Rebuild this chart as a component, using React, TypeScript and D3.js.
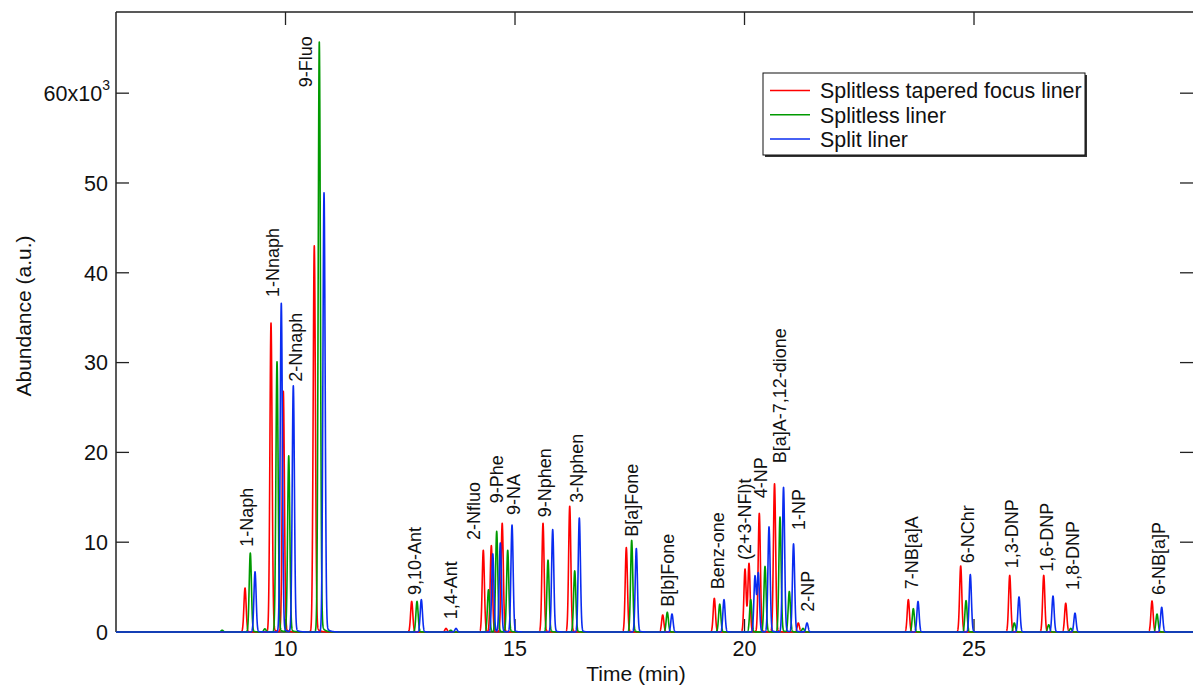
import React from 'react';
import * as d3 from 'd3';

// ---- data (retention time in min, abundance in x10^3 a.u.) ----
const seriesNames = ['Splitless tapered focus liner', 'Splitless liner', 'Split liner'];
const seriesColors = ['#ff0000', '#009a00', '#0a2cf0'];

const redTimes = [9.118, 9.684, 9.952, 10.627, 12.749, 13.497, 14.309, 14.484, 14.721, 15.61, 16.192, 17.425, 18.218, 19.342, 20.011, 20.098, 20.322, 20.654, 21.172, 23.569, 24.71, 25.778, 26.519, 26.998, 28.878];
const redHeights = [4.9, 34.4, 26.8, 43.0, 3.4, 0.4, 9.1, 9.6, 12.1, 12.1, 14.0, 9.4, 1.9, 3.75, 7.0, 7.6, 13.2, 16.5, 1.0, 3.6, 7.35, 6.3, 6.3, 3.2, 3.45];

const greenTimes = [8.62, 9.233, 9.55, 9.815, 10.07, 10.736, 12.865, 13.599, 14.423, 14.601, 14.841, 15.719, 16.301, 17.542, 18.318, 19.46, 20.135, 20.447, 20.773, 20.976, 21.275, 23.678, 24.826, 25.878, 26.627, 27.107, 28.987];
const greenHeights = [0.2, 8.8, 0.35, 30.1, 19.6, 65.7, 3.4, 0.2, 4.7, 11.2, 9.1, 8.0, 6.8, 10.2, 2.2, 3.1, 3.6, 7.3, 12.8, 4.5, 0.4, 2.6, 3.5, 1.0, 0.8, 0.4, 2.0];

const blueTimes = [9.336, 9.908, 10.17, 10.839, 12.959, 13.715, 14.516, 14.68, 14.935, 15.821, 16.401, 17.643, 18.42, 19.553, 20.229, 20.301, 20.534, 20.85, 21.068, 21.362, 23.78, 24.919, 25.98, 26.721, 27.2, 29.089];
const blueHeights = [6.7, 36.6, 27.4, 48.9, 3.6, 0.4, 8.7, 9.9, 11.9, 11.4, 12.7, 9.3, 2.0, 3.6, 6.2, 6.5, 11.7, 16.1, 9.8, 1.0, 3.4, 6.4, 3.9, 4.0, 2.1, 2.75];

const labelNames = ['1-Naph', '1-Nnaph', '2-Nnaph', '9-Fluo', '9,10-Ant', '1,4-Ant', '2-Nfluo', '9-Phe', '9-NA', '9-Nphen', '3-Nphen', 'B[a]Fone', 'B[b]Fone', 'Benz-one', '(2+3-NFl)t', '4-NP', 'B[a]A-7,12-dione', '1-NP', '2-NP', '7-NB[a]A', '6-NChr', '1,3-DNP', '1,6-DNP', '1,8-DNP', '6-NB[a]P'];
const labelTimes = [9.155, 9.721, 10.222, 10.447, 12.821, 13.606, 14.091, 14.601, 14.978, 15.654, 16.344, 17.542, 18.318, 19.407, 20.011, 20.359, 20.758, 21.172, 21.377, 23.643, 24.854, 25.821, 26.584, 27.142, 29.015];
const labelHeights = [9.5, 37.3, 27.87, 60.66, 4.12, 1.41, 10.24, 14.33, 13.03, 12.77, 14.4, 10.61, 2.82, 4.76, 8.02, 14.89, 18.79, 11.36, 2.26, 4.76, 7.65, 7.09, 6.71, 4.68, 4.12];

const xTicks = [10, 15, 20, 25];
const yTicks = [0, 10, 20, 30, 40, 50, 60];
const xDomain = [6.307, 29.771];
const yDomain = [0, 69.04];

// ---- layout ----
const W = 1193;
const H = 686;
const left = 116;
const right = 1193;
const top = 12;
const bottom = 632;
const peakSigma = 0.024;
const tailFrac = 0.025;
const tailTau = 0.06;

function peakShape(t: number, tp: number, h: number) {
  const d = (t - tp) / peakSigma;
  let v = 0;
  if (Math.abs(d) < 8) v += h * Math.exp(-0.5 * d * d);
  if (t > tp) {
    const dt = t - tp;
    const ramp = 1 - Math.exp(-0.5 * (dt / peakSigma) * (dt / peakSigma));
    v += h * tailFrac * ramp * Math.exp(-dt / tailTau);
  }
  return v;
}

function buildTrace(times: number[], heights: number[]) {
  const ts: number[] = [];
  for (let t = xDomain[0]; t <= xDomain[1]; t += 0.002) ts.push(t);
  times.forEach((t) => ts.push(t));
  ts.sort((a, b) => a - b);
  return ts.map((t) => {
    let v = 0;
    for (let i = 0; i < times.length; i++) {
      if (t - times[i] > -0.3 && t - times[i] < 1.2) v += peakShape(t, times[i], heights[i]);
    }
    return [t, v] as [number, number];
  });
}

export default function App() {
  const x = d3.scaleLinear().domain(xDomain).range([left, right]);
  const y = d3.scaleLinear().domain(yDomain).range([bottom, top]);
  const line = d3
    .line<[number, number]>()
    .x((d) => x(d[0]))
    .y((d) => y(d[1]));

  const traces = [
    buildTrace(redTimes, redHeights),
    buildTrace(greenTimes, greenHeights),
    buildTrace(blueTimes, blueHeights),
  ];

  const font = 'Arial, "Liberation Sans", Helvetica, sans-serif';
  const axisColor = '#222';
  const tickLen = 13;

  return (
    <svg
      width={W}
      height={H}
      style={{ position: 'absolute', left: 0, top: 0, background: '#fff' }}
      fontFamily={font}
    >
      <defs>
        <clipPath id="plotClip">
          <rect x={left} y={top - 2} width={right - left} height={bottom - top + 4} />
        </clipPath>
      </defs>
      <rect x={0} y={0} width={W} height={H} fill="#fff" />

      {/* ticks (inward) */}
      {xTicks.map((t) => (
        <g key={'xt' + t}>
          <line x1={x(t)} x2={x(t)} y1={bottom} y2={bottom - tickLen} stroke={axisColor} strokeWidth={1.3} />
          <line x1={x(t)} x2={x(t)} y1={top} y2={top + tickLen} stroke={axisColor} strokeWidth={1.3} />
          <text x={x(t)} y={656} textAnchor="middle" fontSize={21.5} fill="#111">
            {t}
          </text>
        </g>
      ))}
      {yTicks.map((v) => (
        <g key={'yt' + v}>
          <line x1={left} x2={left + tickLen} y1={y(v)} y2={y(v)} stroke={axisColor} strokeWidth={1.3} />
          <line x1={right - tickLen} x2={right} y1={y(v)} y2={y(v)} stroke={axisColor} strokeWidth={1.3} />
          <text x={v === 60 ? 110 : 108} y={y(v)} dy="0.36em" textAnchor="end" fontSize={21.5} fill="#111">
            {v === 60 ? (
              <>
                60x10
                <tspan fontSize={14} dy="-0.75em">3</tspan>
              </>
            ) : (
              v
            )}
          </text>
        </g>
      ))}

      {/* frame */}
      <line x1={left} x2={left} y1={top} y2={bottom} stroke={axisColor} strokeWidth={1.5} />
      <line x1={left} x2={right} y1={top} y2={top} stroke={axisColor} strokeWidth={1.5} />
      <line x1={left} x2={right} y1={bottom} y2={bottom} stroke={axisColor} strokeWidth={1.5} />

      {/* traces */}
      <g clipPath="url(#plotClip)">
        {traces.map((tr, i) => (
          <path key={i} d={line(tr) || ''} fill="none" stroke={seriesColors[i]} strokeWidth={1.6} strokeLinejoin="round" />
        ))}
      </g>

      {/* peak labels */}
      {labelNames.map((name, i) => (
        <text
          key={name}
          transform={`translate(${x(labelTimes[i])},${y(labelHeights[i])}) rotate(-90)`}
          dy="0.35em"
          fontSize={18}
          fill="#111"
        >
          {name}
        </text>
      ))}

      {/* axis titles */}
      <text x={636} y={681} textAnchor="middle" fontSize={21} fill="#111">
        Time (min)
      </text>
      <text transform="translate(31,316) rotate(-90)" textAnchor="middle" fontSize={21} fill="#111">
        Abundance (a.u.)
      </text>

      {/* legend */}
      <g>
        <rect x={765} y={75} width={322} height={82} fill="#333" />
        <rect x={763} y={73} width={322} height={82} fill="#fff" stroke="#111" strokeWidth={1} />
        {seriesNames.map((n, i) => (
          <g key={n}>
            <line x1={770} x2={810} y1={90.5 + i * 24.3} y2={90.5 + i * 24.3} stroke={seriesColors[i]} strokeWidth={1.5} />
            <text x={820} y={90.5 + i * 24.3} dy="0.36em" fontSize={21.4} fill="#111">
              {n}
            </text>
          </g>
        ))}
      </g>
    </svg>
  );
}
